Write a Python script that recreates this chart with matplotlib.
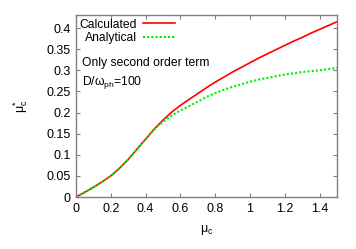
import matplotlib
matplotlib.use("Agg")
import matplotlib.pyplot as plt
import numpy as np

plt.rcParams['font.family'] = ['Liberation Sans', 'DejaVu Sans']
plt.rcParams['mathtext.fontset'] = 'custom'
plt.rcParams['mathtext.rm'] = 'Liberation Sans'
plt.rcParams['mathtext.it'] = 'Liberation Sans'

mu_c = [0.0, 0.05, 0.1, 0.15, 0.2, 0.25, 0.3, 0.35, 0.4, 0.45, 0.5, 0.55,
        0.6, 0.65, 0.7, 0.75, 0.8, 0.85, 0.9, 0.95, 1.0, 1.05, 1.1, 1.15,
        1.2, 1.25, 1.3, 1.35, 1.4, 1.45, 1.5]
calculated = [0.0, 0.011, 0.023, 0.036, 0.050, 0.068, 0.089, 0.113, 0.137,
              0.161, 0.182, 0.201, 0.217, 0.231, 0.245, 0.259, 0.272, 0.284,
              0.296, 0.307, 0.318, 0.329, 0.339, 0.349, 0.359, 0.369, 0.378,
              0.388, 0.397, 0.406, 0.415]
analytical = [0.0, 0.011, 0.023, 0.036, 0.050, 0.068, 0.089, 0.113, 0.137,
              0.160, 0.178, 0.193, 0.205, 0.215, 0.226, 0.237, 0.246, 0.254,
              0.261, 0.267, 0.273, 0.278, 0.282, 0.286, 0.290, 0.293, 0.296,
              0.298, 0.300, 0.303, 0.305]
xticks = [0, 0.2, 0.4, 0.6, 0.8, 1, 1.2, 1.4]
yticks = [0, 0.05, 0.1, 0.15, 0.2, 0.25, 0.3, 0.35, 0.4]

fig = plt.figure(figsize=(3.56, 2.49), dpi=100)
ax = fig.add_axes([76 / 356, 1 - 197 / 249, 261 / 356, 182 / 249])

ax.plot(mu_c, calculated, color='#ff0000', lw=1.2, label='Calculated')
ax.plot(mu_c, analytical, color='#00ee00', lw=1.5, ls=(0, (1, 1)),
        label='Analytical')

ax.set_xlim(0, 1.5)
ax.set_ylim(0, 0.431)
ax.set_xticks(xticks)
ax.set_xticklabels(['0', '0.2', '0.4', '0.6', '0.8', '1', '1.2', '1.4'])
ax.set_yticks(yticks)
ax.set_yticklabels(['0', '0.05', '0.1', '0.15', '0.2', '0.25', '0.3', '0.35', '0.4'])
ax.tick_params(direction='in', top=True, right=True, length=3, width=0.8,
               color='#808080', labelsize=9, pad=4)
for s in ax.spines.values():
    s.set_color('#808080')
    s.set_linewidth(1.0)

ax.set_xlabel(r'$\mu_{\rm c}$', fontsize=9, labelpad=6)
ax.set_ylabel(r'$\mu_{\rm c}^{*}$', fontsize=9, labelpad=12)

leg = ax.legend(loc='upper left', bbox_to_anchor=(0.0, 1.0), frameon=False,
                markerfirst=False, fontsize=8.7, handlelength=2.6,
                handletextpad=0.5, labelspacing=0.1, borderaxespad=0.1,
                borderpad=0.2)

ax.text(0.022, 0.735, 'Only second order term', transform=ax.transAxes,
        fontsize=8.7, va='center')
ax.text(0.022, 0.63, r'D/$\omega_{\rm ph}$=100', transform=ax.transAxes,
        fontsize=8.7, va='center')

fig.savefig('out.png', dpi=100)
